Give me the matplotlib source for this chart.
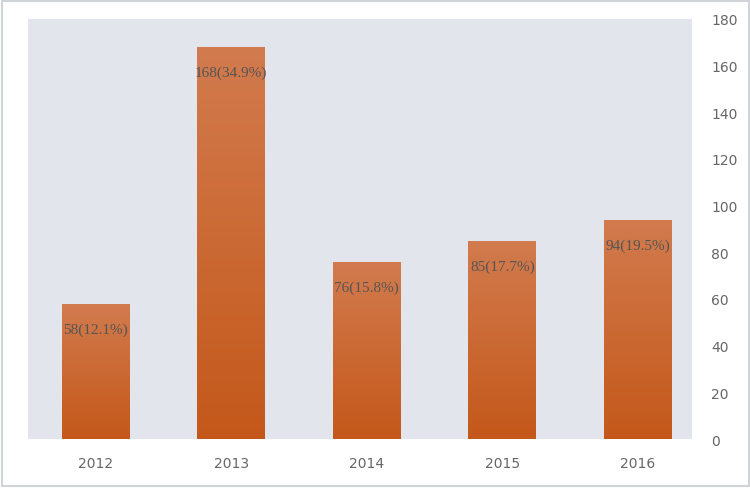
import numpy as np
import matplotlib
matplotlib.use("Agg")
import matplotlib.pyplot as plt
from matplotlib.colors import LinearSegmentedColormap
from matplotlib.patches import Rectangle

# data
years = ['2012', '2013', '2014', '2015', '2016']
counts = [58, 168, 76, 85, 94]
labels = ['58(12.1%)', '168(34.9%)', '76(15.8%)', '85(17.7%)', '94(19.5%)']
y_ticks = [0, 20, 40, 60, 80, 100, 120, 140, 160, 180]

fig = plt.figure(figsize=(7.5, 4.89), dpi=100)
fig.patch.set_facecolor('white')
fig.patches.append(Rectangle((0.002, 0.004), 0.996, 0.992, transform=fig.transFigure,
                             fill=False, edgecolor='#d0d3d8', linewidth=1.5))

ax = fig.add_axes([0.0373, 0.1002, 0.885, 0.859])
ax.set_facecolor('#e2e6ec')

x = np.arange(len(years))
bars = ax.bar(x, counts, width=0.5, color='none', edgecolor='none', zorder=2)

# gradient fill for each bar
cmap = LinearSegmentedColormap.from_list('og', ['#c4581a', '#d27b4e'])
grad = np.linspace(0, 1, 256).reshape(-1, 1)
for b in bars:
    x0, w, h = b.get_x(), b.get_width(), b.get_height()
    im = ax.imshow(grad, cmap=cmap, aspect='auto', origin='lower',
                   extent=[x0, x0 + w, 0, h], zorder=2)
    im.set_clip_path(b)

for xi, c, lab in zip(x, counts, labels):
    ax.text(xi, c - 11, lab, ha='center', va='center', fontsize=11,
            color='#555555', family='Liberation Serif', zorder=3)

ax.set_xlim(-0.5, 4.397)
ax.set_ylim(0, 180)
ax.set_xticks(x)
ax.set_xticklabels(years)
ax.set_yticks(y_ticks)
ax.yaxis.tick_right()
ax.tick_params(axis='both', length=0, labelsize=10, colors='#666666')
ax.tick_params(axis='y', pad=14)
ax.tick_params(axis='x', pad=12)
for s in ax.spines.values():
    s.set_visible(False)

fig.savefig('out.png', dpi=100)
